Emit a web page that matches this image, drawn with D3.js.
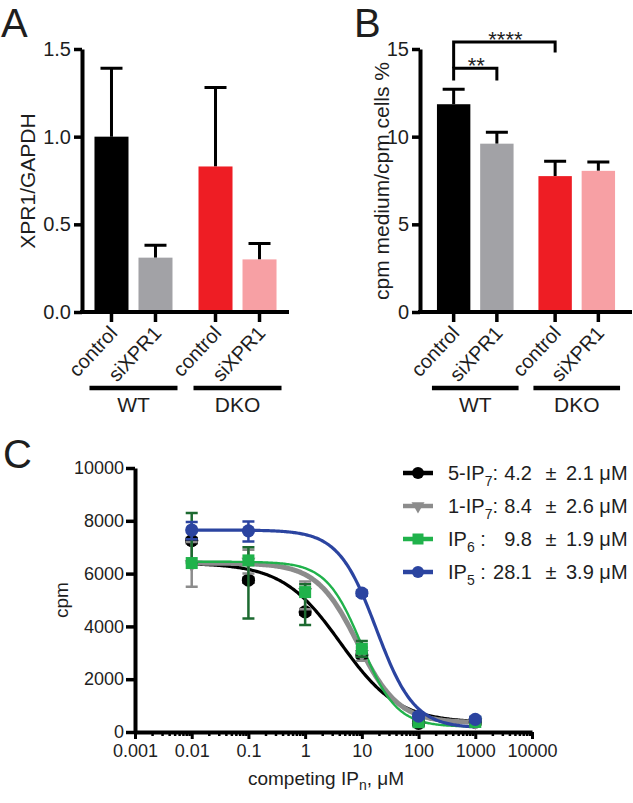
<!DOCTYPE html>
<html><head><meta charset="utf-8">
<script src="https://cdn.jsdelivr.net/npm/d3@7"></script>
<style>
body{margin:0;background:#fff}
svg text{font-family:"Liberation Sans",Arial,Helvetica,sans-serif;fill:#1e1e1e}
</style>
</head><body>
<svg id="chart" width="633" height="803"></svg>
<script>
// ---------- Panel A / B data ----------
const groups = ["WT", "DKO"];
const treatments = ["control", "siXPR1"];
const barColors = ["#000000", "#a2a2a6", "#ee1d24", "#f7a0a4"];
const xprValues = [1.0, 0.31, 0.83, 0.30];
const xprErrors = [0.39, 0.07, 0.45, 0.09];
const xprTicks = [0, 0.5, 1.0, 1.5];
const cpmRatioValues = [11.85, 9.6, 7.75, 8.05];
const cpmRatioErrors = [0.85, 0.65, 0.85, 0.5];
const cpmRatioTicks = [0, 5, 10, 15];
const sigLabels = ["**", "****"];
const sigPairs = [[0, 1], [0, 2]];
const sigTops = [13.9, 15.4];
const sigLegEnds = [13.2, 14.8];

// ---------- Panel C data ----------
const concentrations = [0.01, 0.1, 1, 10, 100, 1000];
const seriesColors = ["#000000", "#8c8c8c", "#20b24b", "#2b44a0"];
const errColors = ["#000000", "#8c8c8c", "#1c6a30", "#2b44a0"];
const markerShapes = ["circle", "triangle", "square", "circle"];
const ip7_5 = [7250, 5750, 4550, 2920, 330, 380];
const ip7_1 = [6350, 6450, 5300, 2950, 450, 380];
const ip6 = [6400, 6500, 5300, 3150, 370, 380];
const ip5 = [7650, 7620, null, 5260, 600, 480];
const errHigh = [
  [100, 100, 100, 100, 100, 100],
  [850, 450, 400, 250, 100, 100],
  [1900, 500, 300, 300, 100, 100],
  [300, 350, 0, 100, 100, 100]
];
const errLow = [
  [100, 100, 100, 100, 100, 100],
  [850, 450, 650, 250, 100, 100],
  [0, 2200, 1250, 300, 100, 100],
  [350, 400, 0, 100, 100, 100]
];
const fitTop = [6400, 6400, 6450, 7650];
const fitBottom = [350, 350, 200, 150];
const fitIC50 = [4.2, 8.4, 9.8, 18];
const fitHill = [0.85, 1.2, 1.4, 1.3];
const curveWidths = [3.2, 5, 2.4, 3.2];
const legendPrefix = ["5-IP", "1-IP", "IP", "IP"];
const legendSub = ["7", "7", "6", "5"];
const legendSuffix = [":", ":", " :", " :"];
const ic50Values = ["4.2", "8.4", "9.8", "28.1"];
const ic50Errors = ["2.1", "2.6", "1.9", "3.9"];
const yTicksC = [0, 2000, 4000, 6000, 8000, 10000];
const xTicksC = [0.001, 0.01, 0.1, 1, 10, 100, 1000, 10000];
const xTickLabelsC = ["0.001", "0.01", "0.1", "1", "10", "100", "1000", "10000"];

const seriesValues = [ip7_5, ip7_1, ip6, ip5];
const svg = d3.select("#chart");

// ---------- bar panels ----------
function barPanel(cfg) {
  const g = svg.append("g");
  const y = d3.scaleLinear().domain(cfg.yDomain).range([312, 49]);
  const outer = d3.scaleBand().domain(groups).range(cfg.xRange)
    .paddingInner(cfg.padInner).paddingOuter(cfg.padOuter);
  const inner = d3.scaleBand().domain(treatments).range([0, outer.bandwidth()]).paddingInner(0.227);
  const bars = [];
  groups.forEach((gr, gi) => treatments.forEach((t, ti) => {
    const i = gi * 2 + ti;
    bars.push({ gr, t, i, x: outer(gr) + inner(t), v: cfg.values[i], e: cfg.errors[i] });
  }));
  const bw = inner.bandwidth();
  // error bars (up only)
  g.selectAll(".err").data(bars).join("path")
    .attr("d", d => `M${d.x + bw / 2},${y(d.v)}V${y(d.v + d.e)}M${d.x + bw / 2 - 11},${y(d.v + d.e)}H${d.x + bw / 2 + 11}`)
    .attr("stroke", "#000").attr("stroke-width", 3).attr("fill", "none");
  g.selectAll(".bar").data(bars).join("rect")
    .attr("x", d => d.x).attr("width", bw)
    .attr("y", d => y(d.v)).attr("height", d => y(0) - y(d.v))
    .attr("fill", d => barColors[d.i]);
  // y axis
  const ya = g.append("g").attr("transform", `translate(${cfg.xRange[0]},0)`)
    .call(d3.axisLeft(y).tickValues(cfg.ticks).tickFormat(cfg.fmt).tickSize(8).tickSizeOuter(0).tickPadding(3));
  ya.select(".domain").attr("stroke-width", 4).attr("stroke", "#000");
  ya.selectAll(".tick line").attr("stroke-width", 3.5);
  ya.selectAll(".tick text").attr("font-size", 20).style("fill", "#1e1e1e");
  // x axis
  const xa = g.append("g");
  xa.append("line").attr("x1", cfg.xRange[0] - 2).attr("x2", cfg.xRange[1]).attr("y1", y(0)).attr("y2", y(0))
    .attr("stroke", "#000").attr("stroke-width", 4);
  xa.selectAll(".xt").data(bars).join("line")
    .attr("x1", d => d.x + bw / 2).attr("x2", d => d.x + bw / 2)
    .attr("y1", y(0)).attr("y2", y(0) + 10).attr("stroke", "#000").attr("stroke-width", 3.5);
  xa.selectAll(".xl").data(bars).join("text")
    .attr("transform", d => `translate(${d.x + bw / 2 + 7},${y(0) + 22}) rotate(-47)`)
    .attr("text-anchor", "end").attr("font-size", 20).text(d => d.t);
  // group lines
  groups.forEach(gr => {
    g.append("line").attr("x1", outer(gr) - 5).attr("x2", outer(gr) + outer.bandwidth() + 5)
      .attr("y1", 388).attr("y2", 388).attr("stroke", "#000").attr("stroke-width", 4.5);
    g.append("text").attr("x", outer(gr) + outer.bandwidth() / 2).attr("y", 412)
      .attr("text-anchor", "middle").attr("font-size", 21).text(gr);
  });
  // y title
  g.append("text").attr("transform", `translate(${cfg.titleX},${cfg.titleY}) rotate(-90)`)
    .attr("text-anchor", "middle").attr("font-size", 21).text(cfg.title);
  g.append("text").attr("x", cfg.letterX).attr("y", 37).attr("font-size", 40).text(cfg.letter);
  return { y, bars, bw, g };
}

barPanel({ xRange: [82, 289], padInner: 0.25, padOuter: 0.12, yDomain: [0, 1.5], ticks: xprTicks,
  fmt: d3.format(".1f"), values: xprValues, errors: xprErrors, title: "XPR1/GAPDH",
  titleX: 35, titleY: 181, letter: "A", letterX: 1 });

const pB = barPanel({ xRange: [420, 632], padInner: 0.245, padOuter: 0.167, yDomain: [0, 15], ticks: cpmRatioTicks,
  fmt: d3.format("d"), values: cpmRatioValues, errors: cpmRatioErrors, title: "cpm medium/cpm cells %",
  titleX: 389, titleY: 181, letter: "B", letterX: 354 });

// significance brackets
sigPairs.forEach((p, k) => {
  const x1 = pB.bars[p[0]].x + pB.bw / 2, x2 = pB.bars[p[1]].x + pB.bw / 2;
  const yt = pB.y(sigTops[k]), yl = pB.y(sigLegEnds[k]);
  const leftEnd = k === 0 ? yl : pB.y(sigTops[0]);
  pB.g.append("path").attr("d", `M${x1},${leftEnd}V${yt}H${x2}V${yl}`)
    .attr("fill", "none").attr("stroke", "#000").attr("stroke-width", 3);
  pB.g.append("text").attr("x", (x1 + x2) / 2 + 1).attr("y", yt + 5)
    .attr("text-anchor", "middle").attr("font-size", 22).text(sigLabels[k]);
});

// ---------- Panel C ----------
const gC = svg.append("g");
const x = d3.scaleLog().domain([0.001, 10000]).range([135, 532]);
const y = d3.scaleLinear().domain([0, 10000]).range([732, 468]);

const yaC = gC.append("g").attr("transform", "translate(135,0)")
  .call(d3.axisLeft(y).tickValues(yTicksC).tickFormat(d3.format("d")).tickSize(9).tickSizeOuter(0).tickPadding(2));
yaC.select(".domain").attr("stroke-width", 4).attr("stroke", "#000");
yaC.selectAll(".tick line").attr("stroke-width", 3.5);
yaC.selectAll(".tick text").attr("font-size", 18).style("fill", "#1e1e1e");

const minorTicks = x.ticks().filter(t => !xTicksC.some(m => Math.abs(m - t) / m < 1e-6));
const xaMinor = gC.append("g").attr("transform", "translate(0,732)")
  .call(d3.axisBottom(x).tickValues(minorTicks).tickFormat("").tickSize(4).tickSizeOuter(0));
xaMinor.select(".domain").remove();
xaMinor.selectAll(".tick line").attr("stroke-width", 2.5);
const xaC = gC.append("g").attr("transform", "translate(0,732)")
  .call(d3.axisBottom(x).tickValues(xTicksC).tickFormat((d, i) => xTickLabelsC[i]).tickSize(7).tickSizeOuter(0).tickPadding(5));
xaC.select(".domain").attr("stroke-width", 4).attr("stroke", "#000");
xaC.selectAll(".tick line").attr("stroke-width", 3);
xaC.selectAll(".tick text").attr("font-size", 18).style("fill", "#1e1e1e");

gC.append("text").attr("transform", "translate(68,600) rotate(-90)").attr("text-anchor", "middle")
  .attr("font-size", 19).text("cpm");
const xt = gC.append("text").attr("x", 326).attr("y", 785).attr("text-anchor", "middle").attr("font-size", 19);
xt.append("tspan").text("competing IP");
xt.append("tspan").attr("dy", 5).attr("font-size", 14).text("n");
xt.append("tspan").attr("dy", -5).text(", \u03bcM");
svg.append("text").attr("x", 3).attr("y", 468).attr("font-size", 40).text("C");

// fitted curves
const sampleX = d3.range(-2, 3.001, 0.02).map(e => Math.pow(10, e));
seriesValues.forEach((vals, s) => {
  const pts = sampleX.map(c => [c, fitBottom[s] + (fitTop[s] - fitBottom[s]) / (1 + Math.pow(c / fitIC50[s], fitHill[s]))]);
  gC.append("path").datum(pts)
    .attr("d", d3.line().x(d => x(d[0])).y(d => y(d[1])).curve(d3.curveLinear))
    .attr("fill", "none").attr("stroke", seriesColors[s]).attr("stroke-width", curveWidths[s]);
});

function marker(sel, shape, color, size) {
  if (shape === "circle") sel.append("circle").attr("r", size * 0.55).attr("fill", color);
  else if (shape === "square") sel.append("rect").attr("x", -size / 2).attr("y", -size / 2).attr("width", size).attr("height", size).attr("fill", color);
  else sel.append("path").attr("d", d3.symbol(d3.symbolTriangle, size * size * 0.6)()).attr("transform", "rotate(180)").attr("fill", color);
}

// data points with error bars
seriesValues.forEach((vals, s) => {
  const pts = concentrations.map((c, i) => ({ c, v: vals[i], hi: errHigh[s][i], lo: errLow[s][i] })).filter(d => d.v !== null);
  const g = gC.append("g");
  g.selectAll("path.eb").data(pts).join("path")
    .attr("d", d => {
      const cx = x(d.c), yh = y(d.v + d.hi), yl = y(d.v - d.lo);
      return `M${cx},${yl}V${yh}M${cx - 6},${yh}H${cx + 6}M${cx - 6},${yl}H${cx + 6}`;
    })
    .attr("fill", "none").attr("stroke", errColors[s]).attr("stroke-width", 2.5);
  pts.forEach(d => {
    const m = g.append("g").attr("transform", `translate(${x(d.c)},${y(d.v)})`);
    marker(m, markerShapes[s], seriesColors[s], 12);
  });
});

// legend
const legRowY = [473, 506, 539, 572];
seriesValues.forEach((vals, s) => {
  const ly = legRowY[s];
  gC.append("line").attr("x1", 403).attr("x2", 433).attr("y1", ly).attr("y2", ly)
    .attr("stroke", seriesColors[s]).attr("stroke-width", 4.5);
  const m = gC.append("g").attr("transform", `translate(418,${ly})`);
  marker(m, markerShapes[s], seriesColors[s], 11);
  const t = gC.append("text").attr("x", 448).attr("y", ly + 7).attr("font-size", 20).style("white-space", "pre");
  t.append("tspan").text(legendPrefix[s]);
  t.append("tspan").attr("dy", 6).attr("font-size", 14).text(legendSub[s]);
  t.append("tspan").attr("dy", -6).text(legendSuffix[s]);
  gC.append("text").attr("x", 532).attr("y", ly + 7).attr("text-anchor", "end").attr("font-size", 20).text(ic50Values[s]);
  gC.append("text").attr("x", 551).attr("y", ly + 7).attr("text-anchor", "middle").attr("font-size", 20).text("\u00b1");
  gC.append("text").attr("x", 566).attr("y", ly + 7).attr("font-size", 20).text(ic50Errors[s] + " \u03bcM");
});
</script>
</body></html>
